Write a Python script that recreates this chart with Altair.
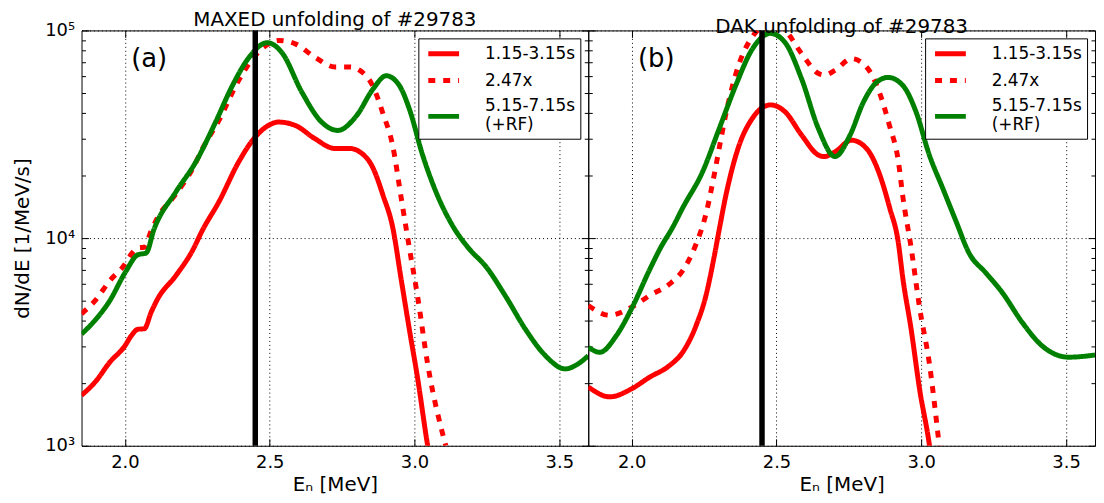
import altair as alt
import pandas as pd

# ---------------- data ----------------
SERIES = ["1.15-3.15s", "\u00a02.47x", "5.15-7.15s (+RF)"]
COLORS = ["#ff0000", "#ff0000", "#008000"]
DASHES = [[1, 0], [7, 8], [1, 0]]
LEGEND_SPLIT = ["5.15-7.15s", "(+RF)"]

PANEL_TITLES = ["MAXED unfolding of #29783", "DAK unfolding of #29783"]
PANEL_LETTERS = ["(a)", "(b)"]

# Panel (a): MAXED
A_RED_E = [1.85, 1.90, 1.947, 2.00, 2.022, 2.045, 2.067, 2.09, 2.112, 2.176, 2.233, 2.268,
           2.325, 2.393, 2.445, 2.496, 2.530, 2.588, 2.656, 2.725, 2.777, 2.811, 2.857,
           2.891, 2.925, 2.954, 2.982, 3.011, 3.045, 3.108]
A_RED_V = [1750, 2050, 2520, 3030, 3390, 3640, 3660, 4380, 5070, 6600, 8700, 10940,
           15000, 23300, 30100, 34900, 36200, 34900, 30100, 27000, 27000, 26000, 21700,
           16100, 11200, 6310, 3640, 2100, 1010, 405]
A_DOT_E = A_RED_E
A_DOT_V = [4320, 5060, 6220, 7480, 8370, 8990, 9040, 10800, 12500, 16300, 21500, 27000,
           37000, 57500, 74300, 86200, 89400, 86200, 74300, 66700, 66700, 64200, 53600,
           39800, 27700, 15600, 8990, 5190, 2490, 1000]
A_GRN_E = [1.85, 1.90, 1.947, 2.00, 2.045, 2.073, 2.10, 2.176, 2.245, 2.313, 2.371, 2.428,
           2.491, 2.542, 2.611, 2.679, 2.735, 2.80, 2.857, 2.902, 2.948, 2.982, 3.028,
           3.074, 3.131, 3.188, 3.246, 3.314, 3.383, 3.452, 3.52, 3.565, 3.60]
A_GRN_V = [3450, 4070, 4980, 6800, 8320, 8470, 11000, 16700, 23300, 36200, 54200, 74000,
           87300, 78200, 50400, 36200, 33000, 38900, 52300, 60500, 54200, 41900, 25100,
           16700, 11500, 8900, 7310, 5260, 3640, 2715, 2345, 2480, 2715]

# Panel (b): DAK
B_RED_E = [1.85, 1.924, 2.001, 2.062, 2.13, 2.176, 2.222, 2.256, 2.285, 2.302, 2.325,
           2.371, 2.416, 2.479, 2.530, 2.587, 2.645, 2.665, 2.702, 2.759, 2.811, 2.857,
           2.891, 2.92, 2.937, 2.965, 2.994, 3.028, 3.062]
B_RED_V = [1920, 1720, 1885, 2140, 2430, 2820, 3780, 5260, 8160, 10940, 16000,
           28000, 37600, 43800, 40500, 31300, 25100, 24700, 26000, 29600, 27000, 20100,
           13970, 9660, 6310, 3640, 1880, 1010, 405]
B_DOT_E = B_RED_E
B_DOT_V = [4740, 4250, 4660, 5290, 6000, 6970, 9340, 13000, 20200, 27000, 39500,
           69200, 92900, 108000, 100000, 77300, 62000, 61000, 64200, 73100, 66700, 49600,
           34500, 23900, 15600, 8990, 4640, 2490, 1000]
B_GRN_E = [1.85, 1.89, 1.947, 2.004, 2.062, 2.10, 2.142, 2.176, 2.245, 2.302, 2.359, 2.416,
           2.479, 2.530, 2.587, 2.645, 2.702, 2.754, 2.80, 2.845, 2.885, 2.937, 2.982,
           3.028, 3.074, 3.12, 3.165, 3.223, 3.28, 3.349, 3.417, 3.509, 3.60]
B_GRN_V = [2980, 2820, 3390, 4710, 7050, 9000, 11300, 13970, 20900, 33600, 54200, 81100,
           96800, 87300, 58300, 33600, 24700, 31300, 45100, 56200, 59400, 54200, 40500,
           25100, 17400, 12050, 8470, 6800, 5460, 3920, 3030, 2670, 2735]

E_MARKER = [2.45]
X_DOMAIN = [1.85, 3.6]
Y_DOMAIN = [1000, 100000]
X_TICKS = [2.0, 2.5, 3.0, 3.5]
Y_MAJOR = [1000, 10000, 100000]
Y_LABELS = ["10\u00b3", "10\u2074", "10\u2075"]
Y_MINOR = [2000, 3000, 4000, 5000, 6000, 7000, 8000, 9000,
           20000, 30000, 40000, 50000, 60000, 70000, 80000, 90000]

FONT = "DejaVu Sans"


def make_df(pairs):
    rows = []
    for name, es, vs in pairs:
        for e, v in zip(es, vs):
            rows.append({"E": e, "V": v, "series": name})
    return pd.DataFrame(rows)


DF_A = make_df([(SERIES[0], A_RED_E, A_RED_V), (SERIES[1], A_DOT_E, A_DOT_V),
                (SERIES[2], A_GRN_E, A_GRN_V)])
DF_B = make_df([(SERIES[0], B_RED_E, B_RED_V), (SERIES[1], B_DOT_E, B_DOT_V),
                (SERIES[2], B_GRN_E, B_GRN_V)])

y_label_expr = " : ".join(
    f"datum.value == {v} ? '{t}'" for v, t in zip(Y_MAJOR[:-1], Y_LABELS[:-1])
) + f" : '{Y_LABELS[-1]}'"

legend_expr = (f"datum.label == '{SERIES[2]}' ? "
               f"['{LEGEND_SPLIT[0]}', '{LEGEND_SPLIT[1]}'] : datum.label")
legend_baseline = f"datum.label == '{SERIES[2]}' ? 'line-bottom' : 'middle'"


def tick_axis(orient, values, size):
    return alt.Axis(orient=orient, values=values, tickSize=size, offset=-size,
                    labels=False, domain=False, grid=False, ticks=True,
                    tickColor="black", tickWidth=1, title=None)


def panel(df, title, letter, show_y):
    xs = alt.Scale(domain=X_DOMAIN, nice=False, zero=False)
    ys = alt.Scale(type="log", domain=Y_DOMAIN, nice=False)
    legend = alt.Legend(
        orient="top-right", offset=8, title=None, fillColor="white",
        strokeColor="black", padding=5, cornerRadius=0,
        symbolType="M-2,0L2,0", symbolSize=240, symbolOffset=10,
        symbolStrokeWidth=5, labelFontSize=17, labelFont=FONT,
        labelColor="black", labelOffset=31, labelLimit=0, rowPadding=6,
        labelExpr=legend_expr,
        labelBaseline=alt.ExprRef(expr=legend_baseline),
    )
    color = alt.Color("series:N", scale=alt.Scale(domain=SERIES, range=COLORS), legend=legend)
    dash = alt.StrokeDash("series:N", scale=alt.Scale(domain=SERIES, range=DASHES), legend=legend)

    main_x = alt.Axis(values=X_TICKS, format=".1f", title="E\u2099 [MeV]", ticks=False,
                      domain=False, grid=True, gridDash=[1, 3], gridColor="black",
                      gridOpacity=1, gridWidth=1, labelFontSize=18, titleFontSize=20,
                      labelPadding=8, titlePadding=3, labelColor="black",
                      titleColor="black", titleFontWeight="normal", labelFlush=False,
                      labelFont=FONT, titleFont=FONT)
    if show_y:
        main_y = alt.Axis(values=Y_MAJOR, labelExpr=y_label_expr, title="dN/dE [1/MeV/s]",
                          ticks=False, domain=False, grid=True, gridDash=[1, 3],
                          gridColor="black", gridOpacity=1, gridWidth=1, labelFontSize=18,
                          titleFontSize=20, labelPadding=7, titlePadding=12,
                          labelColor="black", titleColor="black",
                          titleFontWeight="normal", labelFont=FONT, titleFont=FONT)
    else:
        main_y = alt.Axis(values=Y_MAJOR, labels=False, title=None, ticks=False,
                          domain=False, grid=True, gridDash=[1, 3], gridColor="black",
                          gridOpacity=1, gridWidth=1)

    layers = []
    for i, s in enumerate(SERIES):
        xa = main_x if i == 0 else None
        ya = main_y if i == 0 else None
        layers.append(
            alt.Chart(df).transform_filter(alt.datum.series == s)
            .mark_line(strokeWidth=5, clip=True, interpolate="monotone")
            .encode(x=alt.X("E:Q", scale=xs, axis=xa),
                    y=alt.Y("V:Q", scale=ys, axis=ya),
                    color=color, strokeDash=dash)
        )

    tick_specs = [
        (tick_axis("bottom", X_TICKS, 7), tick_axis("left", Y_MAJOR, 7)),
        (tick_axis("top", X_TICKS, 7), tick_axis("left", Y_MINOR, 4)),
        (None, tick_axis("right", Y_MAJOR, 7)),
        (None, tick_axis("right", Y_MINOR, 4)),
    ]
    for xa, ya in tick_specs:
        layers.append(
            alt.Chart(df).mark_point(opacity=0, clip=True)
            .encode(x=alt.X("E:Q", scale=xs, axis=xa), y=alt.Y("V:Q", scale=ys, axis=ya))
        )

    layers.append(
        alt.Chart(pd.DataFrame({"E": E_MARKER})).mark_rule(color="black", strokeWidth=5.5)
        .encode(x=alt.X("E:Q", scale=xs, axis=None))
    )
    layers.append(
        alt.Chart(pd.DataFrame({"t": [letter]}))
        .mark_text(fontSize=26, align="left", baseline="middle", font=FONT, color="black")
        .encode(text="t:N", x=alt.value(50), y=alt.value(29))
    )

    return (alt.layer(*layers)
            .resolve_axis(x="independent", y="independent")
            .properties(width=510, height=418,
                        title=alt.Title(title, fontSize=20, font=FONT, fontWeight="normal",
                                        anchor="middle", offset=-9, color="black")))


pa = panel(DF_A, PANEL_TITLES[0], PANEL_LETTERS[0], True)
pb = panel(DF_B, PANEL_TITLES[1], PANEL_LETTERS[1], False)

chart = (alt.hconcat(pa, pb, spacing=0, bounds="flush")
         .resolve_scale(color="independent", strokeDash="independent")
         .resolve_legend(color="independent", strokeDash="independent")
         .properties(padding={"left": 4, "top": 0, "right": 0, "bottom": 0},
                     background="white")
         .configure(font=FONT)
         .configure_view(stroke="black", strokeWidth=1))

chart.save("out.html", embed_options={"renderer": "svg", "actions": False})
